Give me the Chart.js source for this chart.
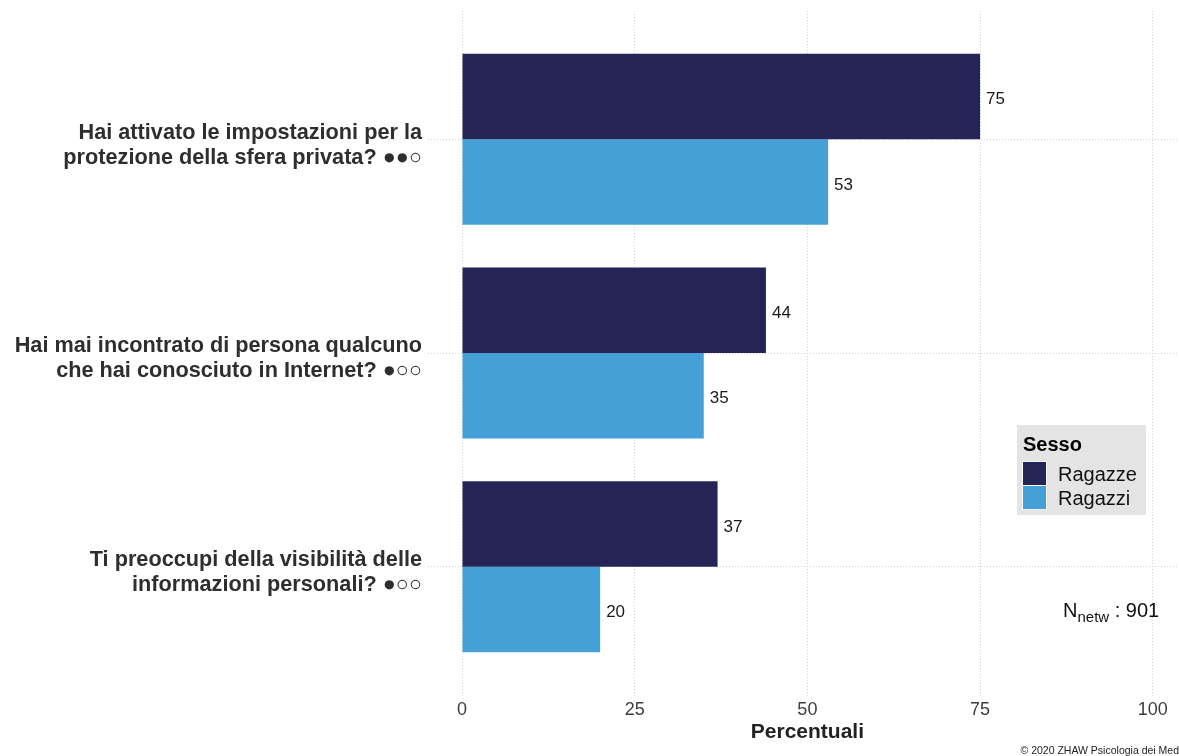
<!DOCTYPE html>
<html>
<head>
<meta charset="utf-8">
<script src="https://cdn.jsdelivr.net/npm/chart.js@4/dist/chart.umd.min.js"></script>
<style>
  html, body { margin: 0; padding: 0; background: #ffffff; }
  canvas { display: block; }
</style>
</head>
<body>
<canvas id="chart" width="1179" height="756"></canvas>
<script>
// Survey items (two lines each) and the share of yes-answers by sex, in percent
const questions = [
  ['Hai attivato le impostazioni per la', 'protezione della sfera privata? ●●○'],
  ['Hai mai incontrato di persona qualcuno', 'che hai conosciuto in Internet? ●○○'],
  ['Ti preoccupi della visibilità delle', 'informazioni personali? ●○○']
];
const seriesNames = ['Ragazze', 'Ragazzi'];
const ragazze = [75, 44, 37];
const ragazzi = [53, 35, 20];
const xTicks = [0, 25, 50, 75, 100];
const legendTitle = 'Sesso';
const axisTitle = 'Percentuali';
const sampleSize = 901;
const credit = '\u00A9 2020 ZHAW Psicologia dei Media';

const FONT = '"Liberation Sans", Arial, Helvetica, sans-serif';
const colors = ['#242556', '#45A0D7'];
const gridColor = '#d2d2d2';

// value printed just past the end of each bar
const valueLabels = {
  id: 'valueLabels',
  afterDatasetsDraw(chart) {
    const ctx = chart.ctx;
    ctx.save();
    ctx.font = '17px ' + FONT;
    ctx.fillStyle = '#1a1a1a';
    ctx.textAlign = 'left';
    ctx.textBaseline = 'middle';
    chart.data.datasets.forEach((ds, di) => {
      chart.getDatasetMeta(di).data.forEach((bar, i) => {
        ctx.fillText(String(ds.data[i].x), bar.x + 6, bar.y + 3);
      });
    });
    ctx.restore();
  }
};

// axis title under the 0–100 range, boxed legend, sample size note and credit line
const annotations = {
  id: 'annotations',
  afterDraw(chart) {
    const ctx = chart.ctx;
    const xs = chart.scales.x;
    ctx.save();
    // axis title centred on the 0–100 span
    ctx.fillStyle = '#222222';
    ctx.font = 'bold 21px ' + FONT;
    ctx.textAlign = 'center';
    ctx.textBaseline = 'alphabetic';
    ctx.fillText(axisTitle, (xs.getPixelForValue(0) + xs.getPixelForValue(100)) / 2, 738);
    // legend box
    ctx.textAlign = 'left';
    ctx.fillStyle = '#e4e4e4';
    ctx.fillRect(1017, 425, 129, 90);
    ctx.fillStyle = '#000000';
    ctx.font = 'bold 20px ' + FONT;
    ctx.fillText(legendTitle, 1023, 451);
    chart.data.datasets.forEach((ds, i) => {
      const y = 462 + i * 24;
      ctx.fillStyle = '#ffffff';
      ctx.fillRect(1022, y - 0.5, 25, 24);
      ctx.fillStyle = ds.backgroundColor;
      ctx.fillRect(1023, y, 23, 23);
      ctx.fillStyle = '#111111';
      ctx.font = '20px ' + FONT;
      ctx.fillText(ds.label, 1058, y + 19);
    });
    // N_netw : 901
    ctx.fillStyle = '#111111';
    ctx.font = '20px ' + FONT;
    let x = 1063;
    ctx.fillText('N', x, 617);
    x += ctx.measureText('N').width;
    ctx.font = '15px ' + FONT;
    ctx.fillText('netw', x, 622);
    x += ctx.measureText('netw').width;
    ctx.font = '20px ' + FONT;
    ctx.fillText(' : ' + sampleSize, x, 617);
    // credit line, running off the right edge
    ctx.font = '10.5px ' + FONT;
    ctx.fillStyle = '#222222';
    const shown = credit.slice(0, credit.length - 2);
    ctx.fillText(credit, 1179 - ctx.measureText(shown).width, 754);
    ctx.restore();
  }
};

new Chart(document.getElementById('chart'), {
  type: 'bar',
  data: {
    datasets: [
      {
        label: seriesNames[0],
        data: ragazze.map((v, i) => ({ x: v, y: i + 1 })),
        backgroundColor: colors[0]
      },
      {
        label: seriesNames[1],
        data: ragazzi.map((v, i) => ({ x: v, y: i + 1 })),
        backgroundColor: colors[1]
      }
    ]
  },
  options: {
    indexAxis: 'y',
    responsive: false,
    animation: false,
    categoryPercentage: 0.8,
    barPercentage: 1.0,
    layout: { padding: { top: 11, right: 0, bottom: 0, left: 0 } },
    plugins: {
      legend: { display: false },
      tooltip: { enabled: false }
    },
    scales: {
      y: {
        type: 'linear',
        reverse: true,
        offset: false,
        min: 0.4,
        max: 3.6,
        afterBuildTicks(scale) {
          scale.ticks = questions.map((q, i) => ({ value: i + 1 }));
        },
        afterFit(scale) {
          scale.width = 462;
          scale.paddingTop = 0;
          scale.paddingBottom = 0;
        },
        border: { display: false, dash: [1, 2] },
        grid: {
          offset: false,
          color: gridColor,
          lineWidth: 1,
          tickBorderDash: [1, 2],
          drawTicks: true,
          tickLength: 34,
          tickColor: gridColor
        },
        ticks: {
          padding: 6,
          labelOffset: 6,
          color: '#2e2e2e',
          font: { family: FONT, size: 21.7, weight: 'bold', lineHeight: 1.15 },
          callback: (v) => questions[Math.round(v) - 1]
        }
      },
      x: {
        type: 'linear',
        min: 0,
        max: 103.8,
        afterBuildTicks(scale) {
          scale.ticks = xTicks.map(v => ({ value: v }));
        },
        afterFit(scale) {
          scale.height = 61;
          scale.paddingLeft = 0;
          scale.paddingRight = 0;
        },
        border: { display: false, dash: [1, 2] },
        grid: {
          color: gridColor,
          lineWidth: 1,
          tickBorderDash: [1, 2],
          drawTicks: true,
          tickLength: 2,
          tickColor: gridColor
        },
        ticks: {
          padding: 2,
          maxRotation: 0,
          color: '#3d3d3d',
          font: { family: FONT, size: 18, lineHeight: 1.2 },
          callback: (v) => String(v)
        }
      }
    }
  },
  plugins: [valueLabels, annotations]
});
</script>
</body>
</html>
